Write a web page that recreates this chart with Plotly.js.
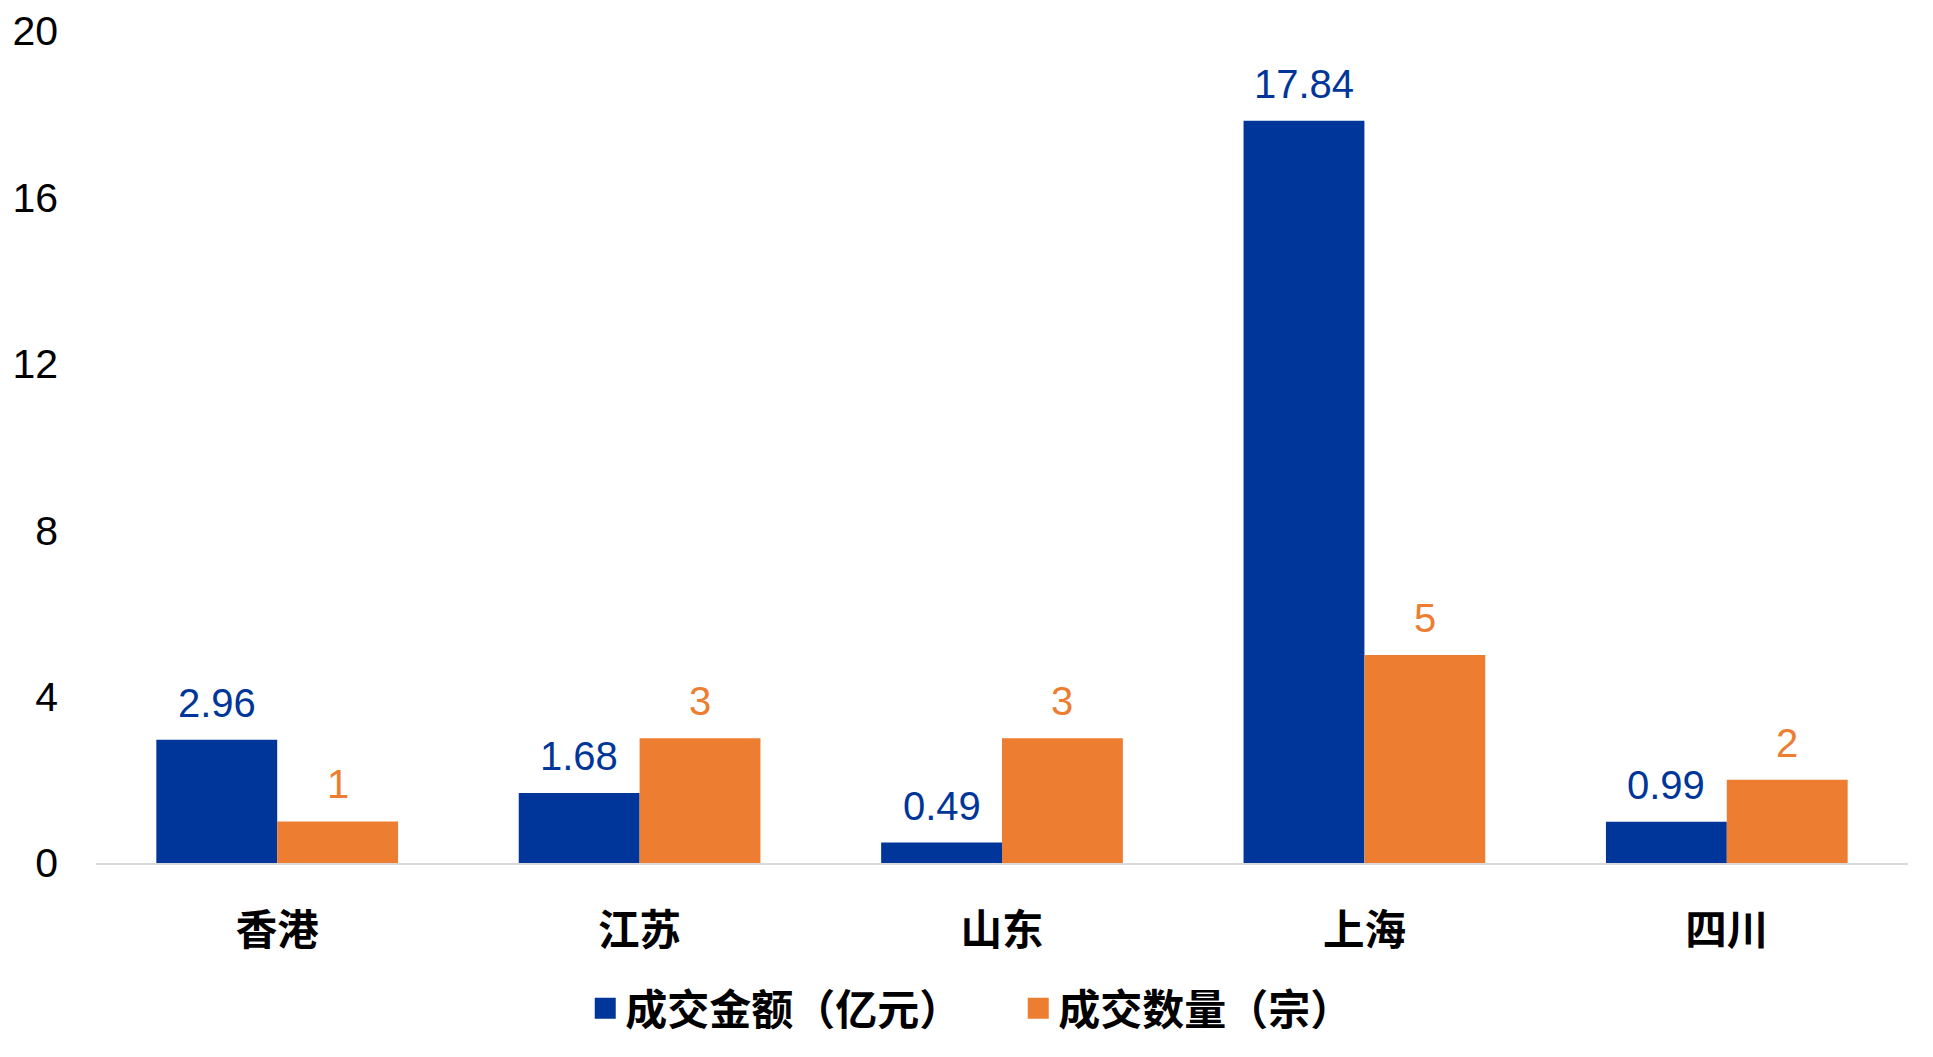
<!DOCTYPE html>
<html>
<head>
<meta charset="utf-8">
<script src="https://cdn.plot.ly/plotly-3.0.1.min.js"></script>
<style>html,body{margin:0;padding:0;background:#fff;}</style>
</head>
<body>
<div id="chart" style="width:1933px;height:1057px;"></div>
<script>
const categories = ['香港', '江苏', '山东', '上海', '四川'];
const amountValues = [2.96, 1.68, 0.49, 17.84, 0.99];
const countValues = [1, 3, 3, 5, 2];
const seriesNames = ['成交金额（亿元）', '成交数量（宗）'];
const yTicks = [0, 4, 8, 12, 16, 20];

const blue = '#003699';
const orange = '#ED7D31';
const numFont = 'Liberation Sans, Arial, sans-serif';
const cjkFont = 'Noto Sans CJK SC, sans-serif';

const traces = [
  {type: 'bar', name: seriesNames[0], x: categories, y: amountValues, marker: {color: blue}, hoverinfo: 'none'},
  {type: 'bar', name: seriesNames[1], x: categories, y: countValues, marker: {color: orange}, hoverinfo: 'none'}
];

const annotations = [];
categories.forEach((c, i) => {
  annotations.push({x: i - 1/6, y: amountValues[i], xref: 'x', yref: 'y', text: String(amountValues[i]),
    showarrow: false, yanchor: 'bottom', yshift: 13, font: {family: numFont, size: 40, color: blue}});
  annotations.push({x: i + 1/6, y: countValues[i], xref: 'x', yref: 'y', text: String(countValues[i]),
    showarrow: false, yanchor: 'bottom', yshift: 13, font: {family: numFont, size: 40, color: orange}});
});

const layout = {
  width: 1933, height: 1057,
  margin: {l: 96, r: 25, t: 31, b: 194},
  paper_bgcolor: '#fff', plot_bgcolor: '#fff',
  barmode: 'group', bargap: 0.333, bargroupgap: 0,
  showlegend: true,
  legend: {orientation: 'h', x: 0.27, xanchor: 'left', xref: 'paper', y: 0.046, yref: 'container', yanchor: 'middle',
    font: {family: cjkFont, size: 42, color: '#000', weight: 'bold'}, itemwidth: 30, entrywidth: 388,
    traceorder: 'normal'},
  xaxis: {type: 'category', showline: true, linecolor: '#d9d9d9', linewidth: 2, showgrid: false, zeroline: false,
    ticks: '', ticklabelstandoff: 30, tickfont: {family: cjkFont, size: 41.5, color: '#000', weight: 'bold'}},
  yaxis: {range: [0, 20], tickvals: yTicks, ticktext: yTicks.map(String), showgrid: false, zeroline: false, showline: false,
    ticks: '', ticklabelstandoff: 37, tickfont: {family: numFont, size: 41, color: '#000'}},
  annotations: annotations,
  font: {family: numFont}
};

Plotly.newPlot('chart', traces, layout, {displayModeBar: false, staticPlot: true}).then(() => {
  document.querySelectorAll('#chart .legendpoints path').forEach(p => {
    const t = p.getAttribute('transform') || '';
    p.setAttribute('transform', t + ' scale(1.75)');
  });
});
</script>
</body>
</html>
